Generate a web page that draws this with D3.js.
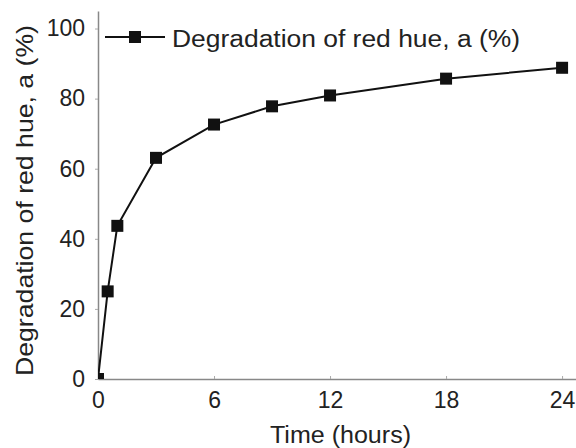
<!DOCTYPE html>
<html>
<head>
<meta charset="utf-8">
<script src="https://cdn.jsdelivr.net/npm/d3@7"></script>
<style>
  body { margin: 0; background: #fff; }
  text { font-family: "Liberation Sans", Arial, sans-serif; fill: #222; }
</style>
</head>
<body>
<div id="main"></div>
<script>
// data
var times = [0, 0.5, 1, 3, 6, 9, 12, 18, 24];
var degradation = [0, 25, 43.7, 63.1, 72.6, 77.8, 80.9, 85.7, 88.8];
var xTicks = [0, 6, 12, 18, 24];
var yTicks = [0, 20, 40, 60, 80, 100];
var seriesName = "Degradation of red hue, a (%)";

var W = 576, H = 448;
var margin = {top: 11, right: 0, bottom: 69, left: 98},
    width = W - margin.left - margin.right,
    height = H - margin.top - margin.bottom;

var svg = d3.select("#main")
  .append("svg")
    .attr("width", W)
    .attr("height", H);

var g = svg.append("g")
    .attr("transform", "translate(" + margin.left + "," + margin.top + ")");

var x = d3.scaleLinear().domain([0, 24.72]).range([0, width]);
var y = d3.scaleLinear().domain([0, 105]).range([height, 0]);

// axes
var xAxis = g.append("g")
    .attr("transform", "translate(0," + height + ")")
    .call(d3.axisBottom(x).tickValues(xTicks).tickSize(-3).tickSizeOuter(0).tickPadding(13));
var yAxis = g.append("g")
    .call(d3.axisLeft(y).tickValues(yTicks).tickSize(3).tickSizeOuter(0).tickPadding(10));

[xAxis, yAxis].forEach(function(a) {
  a.select(".domain").attr("stroke", "#888").attr("stroke-width", 1.5);
  a.selectAll(".tick line").attr("stroke", "#aaa");
  a.selectAll(".tick text")
    .attr("font-size", 23)
    .attr("font-family", "Liberation Sans, Arial, sans-serif")
    .attr("fill", "#222");
});

// axis labels
svg.append("text")
  .attr("x", 270)
  .attr("y", 443)
  .attr("font-size", 23)
  .attr("textLength", 141)
  .attr("lengthAdjust", "spacingAndGlyphs")
  .text("Time (hours)");

svg.append("text")
  .attr("transform", "translate(" + 33 + "," + 376 + ")rotate(-90)")
  .attr("font-size", 24)
  .attr("textLength", 351)
  .attr("lengthAdjust", "spacingAndGlyphs")
  .text(seriesName);

// clip to plot area
svg.append("clipPath").attr("id", "plotclip")
  .append("rect").attr("x", 0).attr("y", -20).attr("width", width + 10).attr("height", height + 20);

var pts = times.map(function(t, i) { return {t: t, v: degradation[i]}; });

var plot = g.append("g").attr("clip-path", "url(#plotclip)");

plot.append("path")
  .datum(pts)
  .attr("fill", "none")
  .attr("stroke", "#111")
  .attr("stroke-width", 2)
  .attr("d", d3.line().x(function(d) { return x(d.t); }).y(function(d) { return y(d.v); }));

var ms = 12;
plot.selectAll("rect.pt")
  .data(pts)
  .enter().append("rect")
  .attr("class", "pt")
  .attr("x", function(d) { return x(d.t) - ms / 2; })
  .attr("y", function(d) { return y(d.v) - ms / 2; })
  .attr("width", ms)
  .attr("height", ms)
  .attr("fill", "#111");

// legend
var lg = svg.append("g").attr("transform", "translate(105,37)");
lg.append("line").attr("x1", 0).attr("x2", 60).attr("y1", 0).attr("y2", 0)
  .attr("stroke", "#111").attr("stroke-width", 2);
lg.append("rect").attr("x", 30 - ms / 2).attr("y", -ms / 2)
  .attr("width", ms).attr("height", ms).attr("fill", "#111");
lg.append("text").attr("x", 67).attr("y", 10)
  .attr("font-size", 23)
  .attr("textLength", 348)
  .attr("lengthAdjust", "spacingAndGlyphs")
  .text(seriesName);
</script>
</body>
</html>
